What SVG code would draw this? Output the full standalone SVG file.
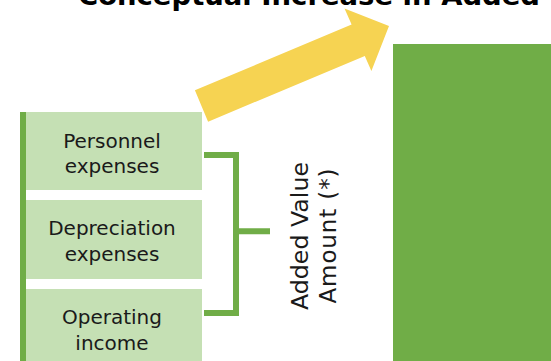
<svg xmlns="http://www.w3.org/2000/svg" width="551" height="361" viewBox="0 0 551 361">
  <style>
    .box { fill: #C5E0B4; }
    .lbl { font-family: "DejaVu Sans", Verdana, sans-serif; font-size: 20px; fill: #1a1a1a; text-anchor: middle; }
    .vlbl { font-family: "DejaVu Sans", Verdana, sans-serif; font-size: 23px; fill: #1a1a1a; text-anchor: middle; }
    .title { font-family: "DejaVu Sans", Verdana, sans-serif; font-size: 27px; font-weight: bold; fill: #000; }
    .link { fill: none; stroke: #70AD47; stroke-width: 6; stroke-linejoin: miter; }
  </style>
  <rect width="551" height="361" fill="#ffffff"/>

  <g id="title">
    <text class="title" x="78" y="5" textLength="462" lengthAdjust="spacingAndGlyphs">Conceptual Increase in Added</text>
  </g>

  <!-- growth arrow -->
  <g id="arrow">
    <polygon fill="#F6D352" points="194.9,90.3 351.6,24.5 344.5,8.6 389,26 371.4,71 364.8,55.9 208.1,121.7"/>
  </g>

  <!-- tall result bar -->
  <g id="bar">
    <rect x="393" y="44" width="158" height="317" fill="#70AD47"/>
  </g>

  <g id="personnel">
    <rect class="box" x="23" y="112" width="179" height="78"/>
    <text class="lbl" x="112" y="147.5">Personnel</text>
    <text class="lbl" x="112" y="173">expenses</text>
  </g>

  <g id="depreciation">
    <rect class="box" x="23" y="200" width="179" height="79"/>
    <text class="lbl" x="112" y="235">Depreciation</text>
    <text class="lbl" x="112" y="261">expenses</text>
  </g>

  <g id="operating">
    <rect class="box" x="23" y="289" width="179" height="72"/>
    <text class="lbl" x="112" y="324">Operating</text>
    <text class="lbl" x="112" y="349.5">income</text>
  </g>

  <g id="label">
    <text class="vlbl" transform="translate(308,236) rotate(-90)" textLength="148" lengthAdjust="spacingAndGlyphs">Added Value</text>
    <text class="vlbl" transform="translate(336,236) rotate(-90)" textLength="135" lengthAdjust="spacing">Amount (*)</text>
  </g>

  <g id="connectors">
    <path class="link" d="M23,112 V361"/>
    <path class="link" d="M204,155 H236 V313 H204"/>
    <path class="link" d="M236,231.3 H270"/>
  </g>
</svg>
